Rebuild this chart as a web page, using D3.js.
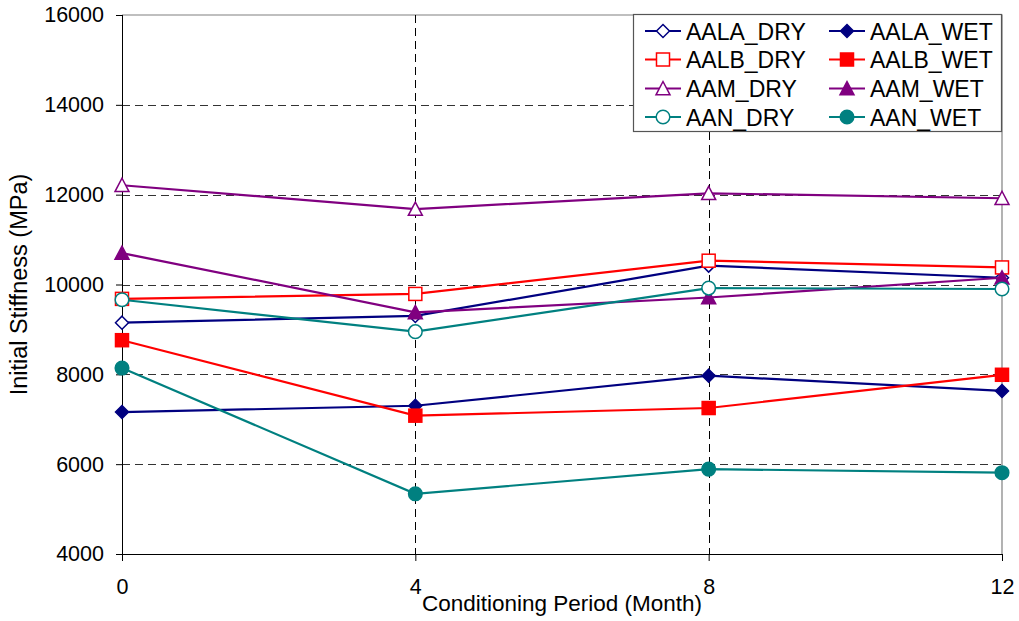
<!DOCTYPE html>
<html><head><meta charset="utf-8">
<script src="https://cdn.jsdelivr.net/npm/d3@7"></script>
<style>body{margin:0;background:#fff;} svg{display:block;font-family:"Liberation Sans",Arial,sans-serif;}</style>
</head><body><svg id="c" width="1019" height="621"></svg>
<script>
const months = [0, 4, 8, 12];
const xTicks = [0, 4, 8, 12];
const yTicks = [4000, 6000, 8000, 10000, 12000, 14000, 16000];
const seriesNames = ["AALA_DRY","AALA_WET","AALB_DRY","AALB_WET","AAM_DRY","AAM_WET","AAN_DRY","AAN_WET"];
const AALA_DRY = [9150, 9300, 10420, 10150];
const AALA_WET = [7160, 7300, 7970, 7630];
const AALB_DRY = [9680, 9790, 10530, 10380];
const AALB_WET = [8760, 7080, 7250, 7990];
const AAM_DRY  = [12210, 11680, 12030, 11920];
const AAM_WET  = [10700, 9380, 9710, 10150];
const AAN_DRY  = [9660, 8950, 9920, 9900];
const AAN_WET  = [8140, 5340, 5890, 5810];
const seriesValues = [AALA_DRY, AALA_WET, AALB_DRY, AALB_WET, AAM_DRY, AAM_WET, AAN_DRY, AAN_WET];
const seriesColors = ["#000080","#000080","#FF0000","#FF0000","#800080","#800080","#008080","#008080"];
const seriesShapes = ["diamond","diamond","square","square","triangle","triangle","circle","circle"];
const seriesFilled = [false,true,false,true,false,true,false,true];

const svg = d3.select("#c");
const L = 122, R = 1002, T = 15, B = 554;
const x = d3.scaleLinear().domain([0, 12]).range([L, R]);
const y = d3.scaleLinear().domain([4000, 16000]).range([B, T]);

// plot border (top, right)
svg.append("path").attr("d", `M${L},${T}H${R}V${B}`).attr("fill","none").attr("stroke","#808080").attr("stroke-width",1.2);

// horizontal grid
svg.append("g").selectAll("line").data(yTicks.filter(v => v > 4000 && v < 16000)).join("line")
  .attr("x1", L).attr("x2", R).attr("y1", d => Math.round(y(d))+0.5).attr("y2", d => Math.round(y(d))+0.5)
  .attr("stroke","#333").attr("stroke-dasharray","8,5").attr("stroke-width",1);
// vertical grid
svg.append("g").selectAll("line").data(xTicks.filter(v => v > 0 && v < 12)).join("line")
  .attr("y1", T).attr("y2", B).attr("x1", d => Math.round(x(d))+0.5).attr("x2", d => Math.round(x(d))+0.5)
  .attr("stroke","#000").attr("stroke-dasharray","8,5").attr("stroke-width",1);

// axes
const yAxis = d3.axisLeft(y).tickValues(yTicks).tickSize(6).tickPadding(12).tickFormat(d3.format("d"));
const gy = svg.append("g").attr("transform", `translate(${L},0)`).call(yAxis);
gy.selectAll("text").attr("font-size", 21.5).attr("fill","#000").attr("font-family","Liberation Sans, Arial, sans-serif");
gy.selectAll("line,path").attr("stroke","#000");
const xAxis = d3.axisBottom(x).tickValues(xTicks).tickSize(7).tickPadding(18).tickFormat(d3.format("d"));
const gx = svg.append("g").attr("transform", `translate(0,${B})`).call(xAxis);
gx.selectAll("text").attr("font-size", 21.5).attr("fill","#000").attr("font-family","Liberation Sans, Arial, sans-serif");
gx.selectAll("line,path").attr("stroke","#000");
gx.select(".domain").attr("d", `M${L},0.5H${R}`);
gy.select(".domain").attr("d", `M0.5,${T}V${B}`);

// axis titles
svg.append("text").attr("x", (L+R)/2).attr("y", 611).attr("text-anchor","middle").attr("font-size", 22.5)
  .text("Conditioning Period (Month)");
svg.append("text").attr("transform", `translate(27,${(T+B)/2}) rotate(-90)`).attr("text-anchor","middle").attr("font-size", 23.5)
  .text("Initial Stiffness (MPa)");

function drawMarker(g, shape, cx, cy, color, filled) {
  const fill = filled ? color : "#fff";
  const sw = 1.5;
  if (shape === "diamond") {
    const s = 6.5;
    g.append("path").attr("d", `M${cx},${cy-s}L${cx+s},${cy}L${cx},${cy+s}L${cx-s},${cy}Z`).attr("fill", fill).attr("stroke", color).attr("stroke-width", sw);
  } else if (shape === "square") {
    const s = 6.5;
    g.append("rect").attr("x", cx-s).attr("y", cy-s).attr("width", 2*s).attr("height", 2*s).attr("fill", fill).attr("stroke", color).attr("stroke-width", sw);
  } else if (shape === "triangle") {
    const s = 7;
    g.append("path").attr("d", `M${cx},${cy-s}L${cx+s},${cy+s*0.9}L${cx-s},${cy+s*0.9}Z`).attr("fill", fill).attr("stroke", color).attr("stroke-width", sw);
  } else {
    g.append("circle").attr("cx", cx).attr("cy", cy).attr("r", 6.8).attr("fill", fill).attr("stroke", color).attr("stroke-width", sw);
  }
}

const line = d3.line().x((d, i) => x(months[i])).y(d => y(d));
seriesValues.forEach((vals, si) => {
  const g = svg.append("g");
  g.append("path").attr("d", line(vals)).attr("fill","none").attr("stroke", seriesColors[si]).attr("stroke-width", 2.2);
  vals.forEach((v, i) => drawMarker(g, seriesShapes[si], x(months[i]), y(v), seriesColors[si], seriesFilled[si]));
});

// legend
const lg = svg.append("g");
lg.append("rect").attr("x", 633.5).attr("y", 14.5).attr("width", 368).attr("height", 117).attr("fill","#fff").attr("stroke","#555").attr("stroke-width",1.2);
const rowY = [31, 59.5, 88.5, 117];
const colX = [645, 829];
seriesNames.forEach((name, si) => {
  const col = si % 2, row = Math.floor(si / 2);
  const lx = colX[col], ly = rowY[row];
  lg.append("line").attr("x1", lx).attr("x2", lx + 36).attr("y1", ly).attr("y2", ly).attr("stroke", seriesColors[si]).attr("stroke-width", 2.2);
  drawMarker(lg, seriesShapes[si], lx + 18, ly, seriesColors[si], seriesFilled[si]);
  lg.append("text").attr("x", lx + 41).attr("y", ly + 8.5).attr("font-size", 23).attr("fill","#000").text(name);
});
</script></body></html>
